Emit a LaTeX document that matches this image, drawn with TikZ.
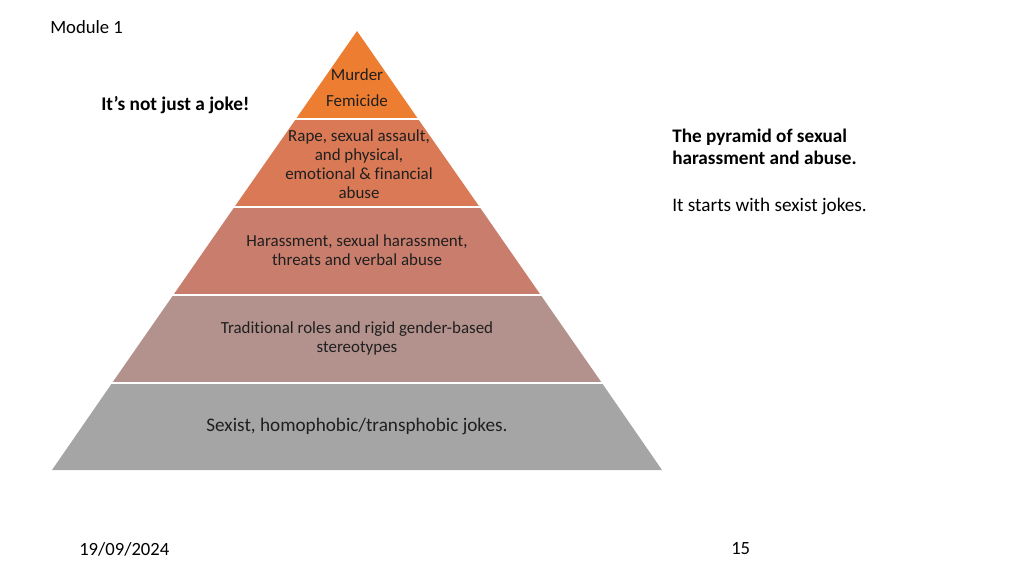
\documentclass[tikz,border=0pt]{standalone}
\usepackage{fontspec}
\setmainfont[Ligatures=NoCommon]{Carlito}
\definecolor{lay1}{HTML}{ED7D31}
\definecolor{lay2}{HTML}{DA7956}
\definecolor{lay3}{HTML}{C97E6D}
\definecolor{lay4}{HTML}{B3928D}
\definecolor{lay5}{HTML}{A5A5A5}
\definecolor{txt}{HTML}{1F1F1F}
\tikzset{
  ptext/.style={text=txt, align=center, inner sep=0pt, font=\fontsize{12.7}{14.25}\selectfont},
  slidetext/.style={text=black, inner sep=0pt, font=\fontsize{14}{16.5}\selectfont},
}
\begin{document}
\begin{tikzpicture}[x=0.75pt,y=-0.75pt]
\useasboundingbox (0,0) rectangle (1024,576);
% pyramid: apex (357,31), base (52,470)-(662,470)
\coordinate (apex) at (357,31);
\coordinate (bl) at (52,470);
\coordinate (br) at (662,470);
\fill[lay5] (112.1,383) -- (601.9,383) -- (br) -- (bl) -- cycle;
\fill[lay4] (173.3,295) -- (540.7,295) -- (601.9,383) -- (112.1,383) -- cycle;
\fill[lay3] (234.4,207) -- (479.6,207) -- (540.7,295) -- (173.3,295) -- cycle;
\fill[lay2] (295.9,119) -- (418.1,119) -- (479.6,207) -- (234.4,207) -- cycle;
\fill[lay1] (apex) -- (418.1,119) -- (295.9,119) -- cycle;
\draw[white, line width=1.5pt] (290,119) -- (424,119);
\draw[white, line width=1.5pt] (228,207) -- (486,207);
\draw[white, line width=1.5pt] (167,295) -- (547,295);
\draw[white, line width=1.5pt] (106,383) -- (608,383);

\node[ptext] (murder) at (357,75) {Murder};
\node[ptext] (femicide) at (357,100.5) {Femicide};
\node[ptext] (rape) at (359,164) {Rape, sexual assault,\\and physical,\\emotional \& financial\\abuse};
\node[ptext] (harass) at (357,250.5) {Harassment, sexual harassment,\\threats and verbal abuse};
\node[ptext] (trad) at (357,338.5) {Traditional roles and rigid gender-based\\stereotypes};
\node[ptext, font=\fontsize{14.4}{17}\selectfont] (sexist) at (357,426) {Sexist, homophobic/transphobic jokes.};

\node[slidetext, anchor=west] (module) at (50,27) {Module 1};
\node[slidetext, anchor=west, font=\fontsize{14.5}{17}\selectfont\bfseries] (joke) at (101,105) {It’s not just a joke!};
\node[slidetext, anchor=north west, align=left, font=\fontsize{14.4}{16.5}\selectfont] (side) at (672,129)
  {\textbf{The pyramid of sexual}\\\textbf{harassment and abuse.}\\[18.75pt]It starts with sexist jokes.};
\node[slidetext, anchor=west] (date) at (79,549) {19/09/2024};
\node[slidetext, anchor=west] (page) at (731,549) {15};
\end{tikzpicture}
\end{document}
